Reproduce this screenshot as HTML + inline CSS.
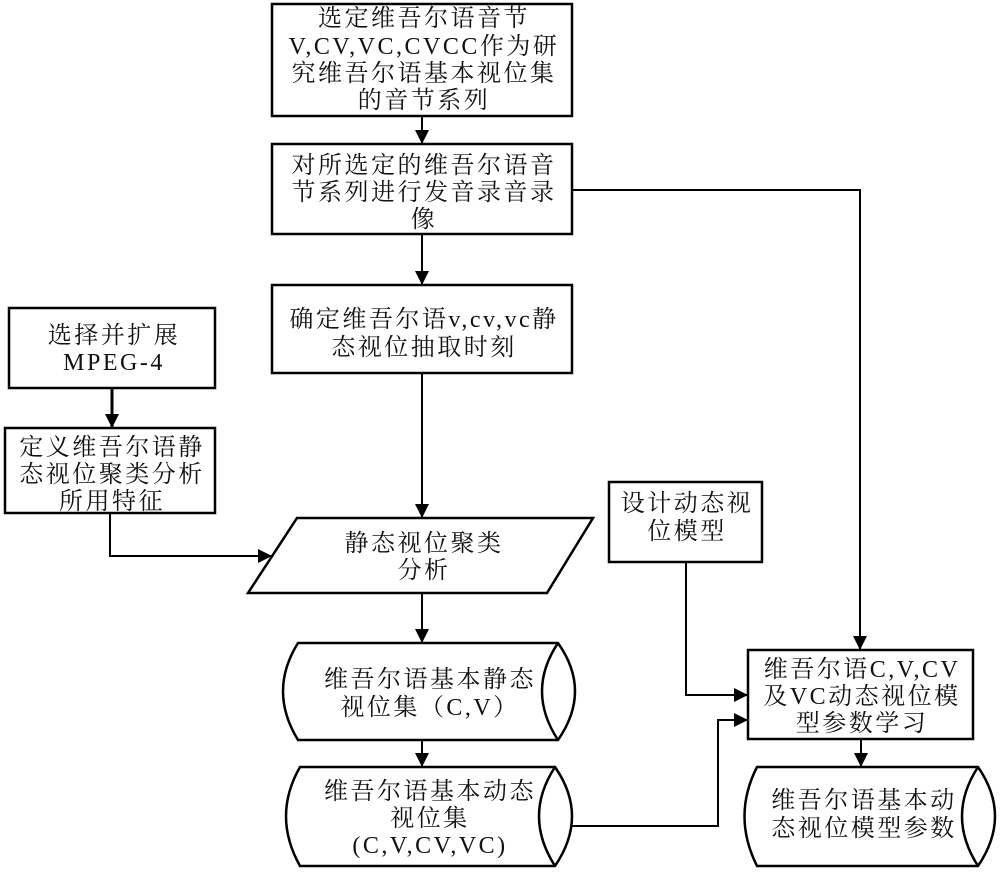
<!DOCTYPE html>
<html><head><meta charset="utf-8"><style>
html,body{margin:0;padding:0;background:#fff;}
svg text{font-family:"Liberation Serif","Noto Serif CJK SC",serif;font-size:24px;letter-spacing:2.5px;fill:#111;text-anchor:middle;}
</style></head><body>
<svg width="1000" height="874" viewBox="0 0 1000 874" xmlns="http://www.w3.org/2000/svg">
<defs>
<marker id="b" markerWidth="14" markerHeight="14" refX="13" refY="7" orient="auto" markerUnits="userSpaceOnUse"><path d="M0,0 L14,7 L0,14 z" fill="#000"/></marker></defs>
<g fill="none" stroke="#000" stroke-width="2.5">
<rect x="272" y="4" width="300" height="112"/>
<rect x="272" y="144" width="300" height="90"/>
<rect x="272" y="285" width="300" height="88"/>
<rect x="9" y="308" width="206" height="80"/>
<rect x="5" y="428" width="210" height="85"/>
<path d="M297,518 L593,518 L547,593 L248,593 Z"/>
<rect x="609" y="482" width="153" height="80"/>
<rect x="748" y="650" width="225" height="89"/>
<path d="M298,643 L558,643 Q592,691 558,740 L298,740 Q268,691 298,643 Z"/><path d="M558,643 Q526,691 558,740"/>
<path d="M300,767 L555,767 Q589,816 555,866 L300,866 Q272,816 300,767 Z"/><path d="M555,767 Q523,816 555,866"/>
<path d="M757,767 L978,767 Q1012,816 978,866 L757,866 Q732,816 757,767 Z"/><path d="M978,767 Q946,816 978,866"/>
</g>
<g fill="none" stroke="#000" stroke-width="2">
<line x1="422" y1="116" x2="422" y2="143" marker-end="url(#b)"/>
<line x1="422" y1="234" x2="422" y2="284" marker-end="url(#b)"/>
<line x1="422" y1="373" x2="422" y2="517" marker-end="url(#b)"/>
<line x1="112" y1="388" x2="112" y2="427" stroke-width="3" marker-end="url(#b)"/>
<polyline points="110,513 110,556 271,556" marker-end="url(#b)"/>
<line x1="422" y1="593" x2="422" y2="642" marker-end="url(#b)"/>
<line x1="422" y1="740" x2="422" y2="766" marker-end="url(#b)"/>
<polyline points="572,190 860,190 860,649" marker-end="url(#b)"/>
<polyline points="686,562 686,695 747,695" marker-end="url(#b)"/>
<polyline points="572,826 718,826 718,720 747,720" marker-end="url(#b)"/>
<line x1="861" y1="739" x2="861" y2="766" marker-end="url(#b)"/>
</g>
<text x="424" y="26">选定维吾尔语音节</text>
<text x="424" y="54">V,CV,VC,CVCC作为研</text>
<text x="424" y="81">究维吾尔语基本视位集</text>
<text x="424" y="108">的音节系列</text>
<text x="424" y="173">对所选定的维吾尔语音</text>
<text x="424" y="200">节系列进行发音录音录</text>
<text x="424" y="227">像</text>
<text x="424" y="327">确定维吾尔语v,cv,vc静</text>
<text x="424" y="355">态视位抽取时刻</text>
<text x="114" y="343">选择并扩展</text>
<text x="114" y="370">MPEG-4</text>
<text x="112" y="455">定义维吾尔语静</text>
<text x="112" y="482">态视位聚类分析</text>
<text x="112" y="509">所用特征</text>
<text x="424" y="551">静态视位聚类</text>
<text x="424" y="578">分析</text>
<text x="687" y="511">设计动态视</text>
<text x="687" y="539">位模型</text>
<text x="430" y="687">维吾尔语基本静态</text>
<text x="430" y="715">视位集（C,V）</text>
<text x="430" y="799">维吾尔语基本动态</text>
<text x="430" y="826">视位集</text>
<text x="430" y="853">(C,V,CV,VC)</text>
<text x="862" y="677">维吾尔语C,V,CV</text>
<text x="862" y="704">及VC动态视位模</text>
<text x="862" y="731">型参数学习</text>
<text x="864" y="808">维吾尔语基本动</text>
<text x="864" y="836">态视位模型参数</text>
</svg>
</body></html>
